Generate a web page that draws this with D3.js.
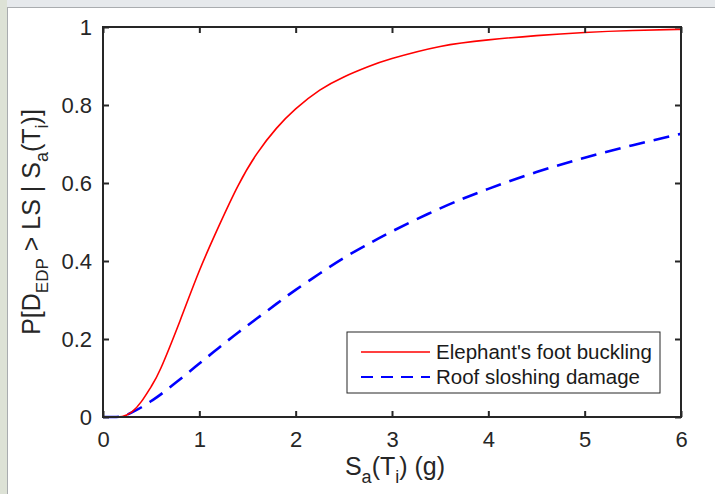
<!DOCTYPE html>
<html>
<head>
<meta charset="utf-8">
<script src="https://cdn.jsdelivr.net/npm/d3@7"></script>
<style>
  html, body { margin: 0; padding: 0; background: #fff; }
  svg { display: block; }
</style>
</head>
<body>
<div id="chart"></div>
<script>
// Sa(Ti) in g
const saValues = [0, 0.1, 0.2, 0.3, 0.4, 0.5, 0.6, 0.8, 1.0, 1.2, 1.4, 1.6, 1.8, 2.0,
  2.25, 2.5, 2.75, 3.0, 3.5, 4.0, 4.5, 5.0, 5.5, 6.0];
// fragility curves
const bucklingValues = [0, 0, 0.001, 0.013, 0.04, 0.078, 0.125, 0.247, 0.375, 0.488, 0.592,
  0.676, 0.74, 0.79, 0.838, 0.872, 0.898, 0.919, 0.95, 0.967, 0.978, 0.986, 0.991, 0.994];
const sloshingValues = [0, 0, 0.002, 0.012, 0.025, 0.041, 0.058, 0.097, 0.137, 0.177, 0.216,
  0.253, 0.29, 0.326, 0.368, 0.408, 0.443, 0.476, 0.535, 0.585, 0.628, 0.665, 0.697, 0.726];
const seriesNames = ["Elephant's foot buckling", "Roof sloshing damage"];
const xTicks = [0, 1, 2, 3, 4, 5, 6];
const yTicks = [0, 0.2, 0.4, 0.6, 0.8, 1];

const WIDTH = 715;
const HEIGHT = 494;
const FONT = "'Liberation Sans', Arial, Helvetica, sans-serif";
const AXISCOLOR = "#262626";

const margin = { top: 27, left: 103, right: 34, bottom: 77 };
const plotWidth = WIDTH - margin.left - margin.right;
const plotHeight = HEIGHT - margin.top - margin.bottom;

const svg = d3.select("#chart").append("svg")
  .attr("width", WIDTH)
  .attr("height", HEIGHT);

// screenshot frame
svg.append("rect").attr("x", 0).attr("y", 0).attr("width", WIDTH).attr("height", 7)
  .attr("fill", "#e6e9ec");
svg.append("rect").attr("x", 0).attr("y", 0).attr("width", 7).attr("height", HEIGHT)
  .attr("fill", "#dde2d6");
svg.append("line").attr("x1", 7).attr("x2", WIDTH).attr("y1", 7.5).attr("y2", 7.5)
  .attr("stroke", "#a9acaf");
svg.append("line").attr("x1", 7.5).attr("x2", 7.5).attr("y1", 7).attr("y2", HEIGHT)
  .attr("stroke", "#a9acaf");

const x = d3.scaleLinear().domain([0, 6]).range([0, plotWidth]);
const y = d3.scaleLinear().domain([0, 1]).range([plotHeight, 0]);

const graph = svg.append("g")
  .attr("transform", `translate(${margin.left}, ${margin.top})`);

const makeLine = values => d3.line()
  .x((d, i) => x(saValues[i]))
  .y((d, i) => y(Math.max(0, values[i])))
  .curve(d3.curveNatural)(values);

graph.append("path")
  .attr("d", makeLine(sloshingValues))
  .attr("fill", "none")
  .attr("stroke", "#0000ff")
  .attr("stroke-width", 2.6)
  .attr("stroke-dasharray", "16,9");

graph.append("path")
  .attr("d", makeLine(bucklingValues))
  .attr("fill", "none")
  .attr("stroke", "#ff0000")
  .attr("stroke-width", 1.6);

// axes, ticks inward on all four sides
const styleAxis = g => {
  g.select(".domain").remove();
  g.selectAll(".tick line").attr("stroke", AXISCOLOR).attr("stroke-width", 2);
  g.selectAll("text").style("font-family", FONT).style("font-size", "22px")
    .attr("fill", "#262626");
};

graph.append("g")
  .attr("transform", `translate(0, ${plotHeight})`)
  .call(d3.axisBottom(x).tickValues(xTicks).tickSize(-6).tickPadding(14).tickFormat(d3.format("d")))
  .call(styleAxis);
graph.append("g")
  .call(d3.axisTop(x).tickValues(xTicks).tickSize(-6).tickFormat(""))
  .call(styleAxis);
graph.append("g")
  .call(d3.axisLeft(y).tickValues(yTicks).tickSize(-6).tickPadding(11).tickFormat(d => d === 0 || d === 1 ? d : d3.format(".1f")(d)))
  .call(styleAxis);
graph.append("g")
  .attr("transform", `translate(${plotWidth}, 0)`)
  .call(d3.axisRight(y).tickValues(yTicks).tickSize(-6).tickFormat(""))
  .call(styleAxis);

graph.append("rect")
  .attr("width", plotWidth)
  .attr("height", plotHeight)
  .attr("fill", "none")
  .attr("stroke", AXISCOLOR)
  .attr("stroke-width", 2);

// axis labels
const xLabel = svg.append("text")
  .attr("x", margin.left + plotWidth / 2 + 3)
  .attr("y", 475)
  .attr("text-anchor", "middle")
  .style("font-family", FONT)
  .style("font-size", "25px")
  .attr("fill", "#262626");
xLabel.append("tspan").text("S");
xLabel.append("tspan").attr("dy", 8).style("font-size", "18px").text("a");
xLabel.append("tspan").attr("dy", -8).text("(T");
xLabel.append("tspan").attr("dy", 8).style("font-size", "18px").text("i");
xLabel.append("tspan").attr("dy", -8).text(") (g)");

const yLabel = svg.append("text")
  .attr("transform", `translate(40, ${margin.top + plotHeight / 2}) rotate(-90)`)
  .attr("text-anchor", "middle")
  .style("font-family", FONT)
  .style("font-size", "25px")
  .attr("fill", "#262626");
yLabel.append("tspan").text("P[D");
yLabel.append("tspan").attr("dy", 8).style("font-size", "17px").text("EDP");
yLabel.append("tspan").attr("dy", -8).text(" > LS | S");
yLabel.append("tspan").attr("dy", 8).style("font-size", "18px").text("a");
yLabel.append("tspan").attr("dy", -8).text("(T");
yLabel.append("tspan").attr("dy", 8).style("font-size", "18px").text("i");
yLabel.append("tspan").attr("dy", -8).text(")]");

// legend
const legend = svg.append("g").attr("transform", "translate(347, 332)");
legend.append("rect")
  .attr("width", 313)
  .attr("height", 61)
  .attr("fill", "#fff")
  .attr("stroke", "#262626")
  .attr("stroke-width", 1);

const legendItems = [
  { name: seriesNames[0], color: "#ff0000", width: 1.6, dash: null },
  { name: seriesNames[1], color: "#0000ff", width: 1.8, dash: "12,8" }
];
legendItems.forEach((item, i) => {
  const rowY = 20 + i * 25;
  legend.append("line")
    .attr("x1", 14).attr("x2", 83)
    .attr("y1", rowY).attr("y2", rowY)
    .attr("stroke", item.color)
    .attr("stroke-width", item.width)
    .attr("stroke-dasharray", item.dash);
  legend.append("text")
    .attr("x", 89)
    .attr("y", rowY + 7)
    .text(item.name)
    .style("font-family", FONT)
    .style("font-size", "20.5px")
    .attr("fill", "#1a1a1a");
});
</script>
</body>
</html>
